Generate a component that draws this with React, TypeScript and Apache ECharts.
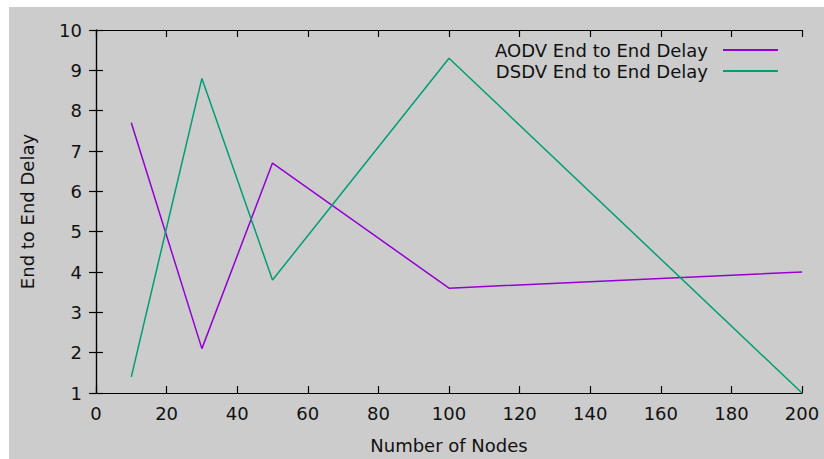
import React, { useEffect, useRef } from "react";
import * as echarts from "echarts";

const nodes = [10, 30, 50, 100, 200];
const aodvDelay = [7.7, 2.1, 6.7, 3.6, 4.0];
const dsdvDelay = [1.4, 8.8, 3.8, 9.3, 1.0];
const seriesNames = ["AODV End to End Delay", "DSDV End to End Delay"];
const colors = ["#9400d3", "#009e73"];

const FONT = "DejaVu Sans";
const FS = 18;

export default function App() {
  const ref = useRef<HTMLDivElement>(null);
  useEffect(() => {
    const chart = echarts.init(ref.current!, null, { renderer: "svg" });
    const axisLine = { show: true, lineStyle: { color: "#000", width: 1.2 } };
    const tick = { show: true, inside: true, length: 7, lineStyle: { color: "#000", width: 1.2 } };
    chart.setOption({
      animation: false,
      graphic: [
        { type: "rect", shape: { x: 9, y: 7, width: 815, height: 452 }, style: { fill: "#cccccc" }, z: -10, silent: true },
      ],
      grid: { left: 96, top: 30, right: 22, bottom: 61 },
      legend: {
        orient: "vertical",
        right: 41,
        top: 35,
        align: "right",
        icon: "rect",
        itemWidth: 55,
        itemHeight: 2,
        itemGap: 1,
        textStyle: { fontFamily: FONT, fontSize: FS, color: "#111", padding: [0, 10, 0, 0], lineHeight: 20 },
        data: seriesNames,
      },
      xAxis: [
        {
          type: "value",
          min: 0,
          max: 200,
          interval: 20,
          name: "Number of Nodes",
          nameLocation: "middle",
          nameGap: 43,
          nameTextStyle: { fontFamily: FONT, fontSize: FS, color: "#111" },
          axisLine,
          axisTick: tick,
          splitLine: { show: false },
          axisLabel: { fontFamily: FONT, fontSize: FS, color: "#111", margin: 11 },
        },
        {
          type: "value",
          position: "top",
          min: 0,
          max: 200,
          interval: 20,
          axisLine,
          axisTick: tick,
          splitLine: { show: false },
          axisLabel: { show: false },
        },
      ],
      yAxis: [
        {
          type: "value",
          min: 1,
          max: 10,
          interval: 1,
          name: "End to End Delay",
          nameLocation: "middle",
          nameGap: 60,
          nameTextStyle: { fontFamily: FONT, fontSize: FS, color: "#111" },
          axisLine,
          axisTick: tick,
          splitLine: { show: false },
          axisLabel: { fontFamily: FONT, fontSize: FS, color: "#111", margin: 14 },
        },
        {
          type: "value",
          position: "right",
          min: 1,
          max: 10,
          interval: 1,
          axisLine,
          axisTick: tick,
          splitLine: { show: false },
          axisLabel: { show: false },
        },
      ],
      series: [
        {
          name: seriesNames[0],
          type: "line",
          data: nodes.map((n, i) => [n, aodvDelay[i]]),
          symbol: "none",
          lineStyle: { color: colors[0], width: 1.5 },
          itemStyle: { color: colors[0] },
        },
        {
          name: seriesNames[1],
          type: "line",
          data: nodes.map((n, i) => [n, dsdvDelay[i]]),
          symbol: "none",
          lineStyle: { color: colors[1], width: 1.5 },
          itemStyle: { color: colors[1] },
        },
      ],
    });
    return () => chart.dispose();
  }, []);
  return (
    <div
      ref={ref}
      style={{ position: "fixed", left: 0, top: 0, width: 824, height: 459, background: "#fff" }}
    />
  );
}
